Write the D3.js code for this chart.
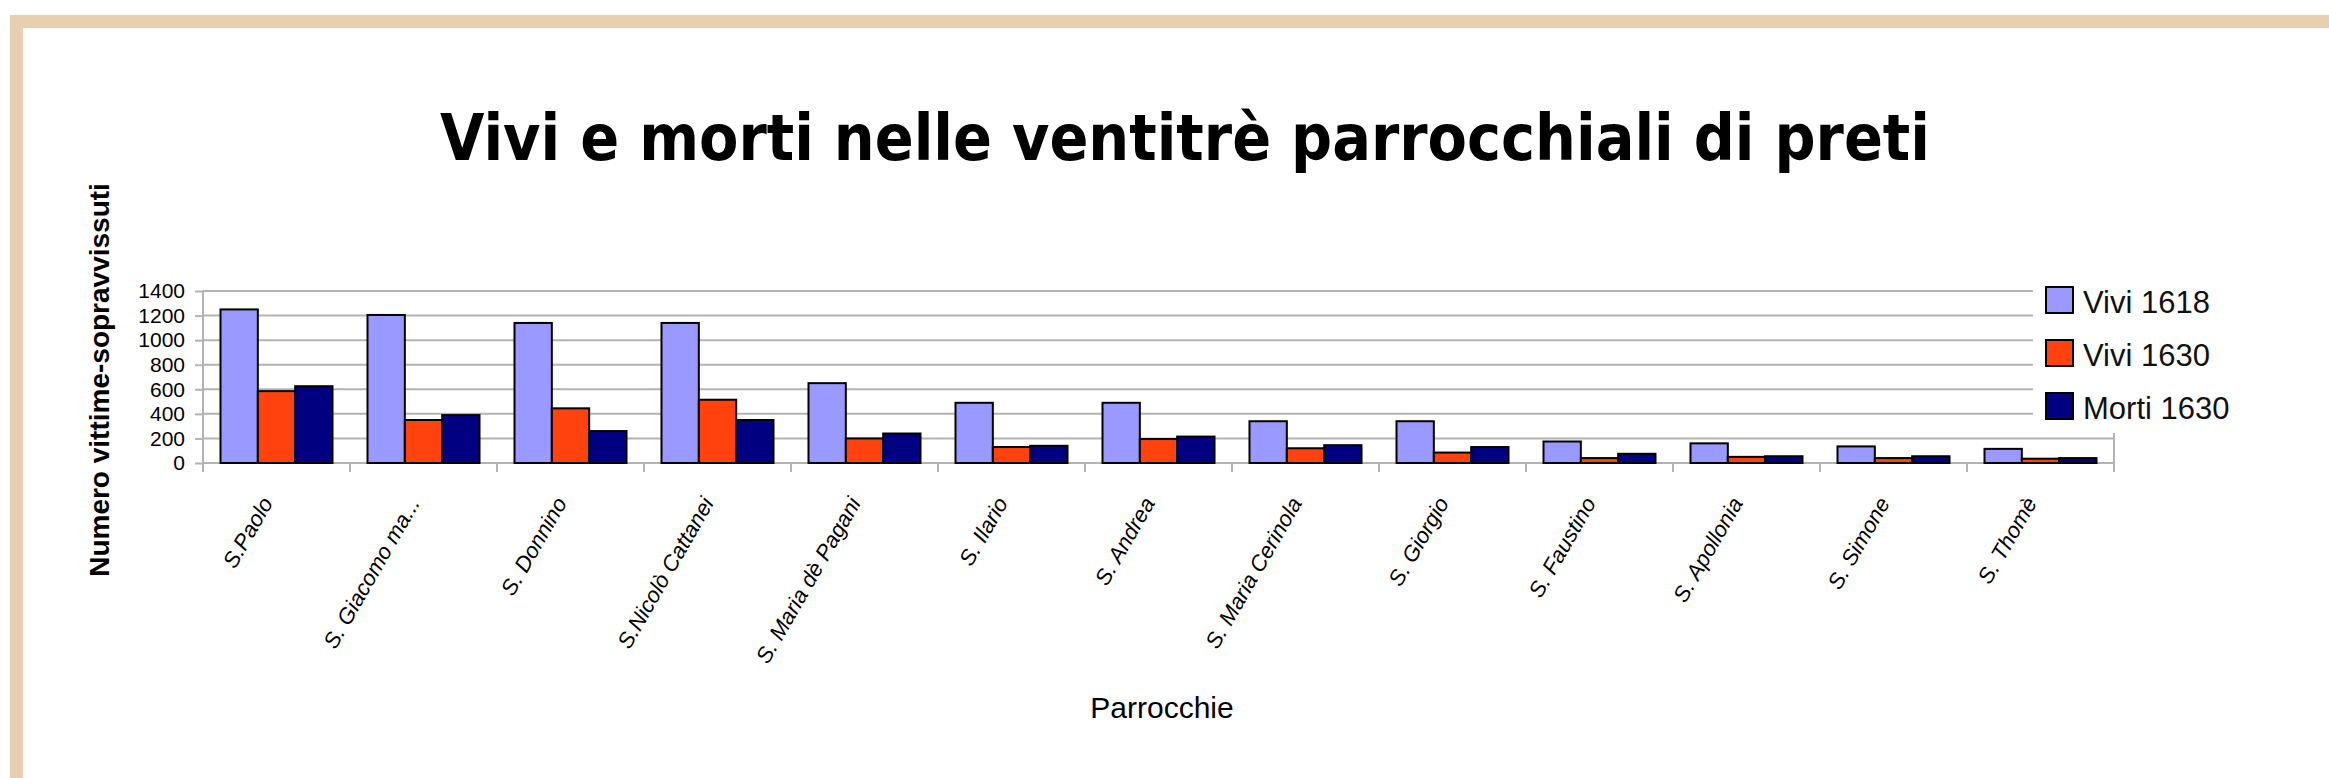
<!DOCTYPE html>
<html lang="it">

<head>
    <meta charset="utf-8">
    <script src="https://cdn.jsdelivr.net/npm/d3@7"></script>
    <title>Vivi e morti nelle ventitrè parrocchiali di preti</title>
    <style>
        body { margin: 0; background: #ffffff; }
        svg { display: block; }
    </style>
</head>

<body>
    <svg width="2329" height="778" id="plot"></svg>
    <script>
    // Data
    const parrocchie = ["S.Paolo", "S. Giacomo ma...", "S. Donnino", "S.Nicolò Cattanei", "S. Maria dè Pagani",
        "S. Ilario", "S. Andrea", "S. Maria Cerinola", "S. Giorgio", "S. Faustino", "S. Apollonia", "S. Simone", "S. Thomè"]
    const vivi1618 = [1250, 1205, 1140, 1140, 650, 490, 490, 340, 340, 175, 160, 135, 115]
    const vivi1630 = [585, 350, 445, 515, 200, 130, 195, 120, 85, 40, 50, 40, 35]
    const morti1630 = [625, 390, 260, 350, 240, 140, 215, 145, 130, 75, 55, 55, 40]
    const serie = ["Vivi 1618", "Vivi 1630", "Morti 1630"]
    const yTicks = [0, 200, 400, 600, 800, 1000, 1200, 1400]

    const colori = ["#9999ff", "#ff420e", "#000080"]
    const valori = [vivi1618, vivi1630, morti1630]

    let svg = d3.select("#plot")

    // frame (beige border)
    svg.append("rect").attr("x", 10).attr("y", 15).attr("width", 2319).attr("height", 13).attr("fill", "#e8cfb0")
    svg.append("rect").attr("x", 10).attr("y", 15).attr("width", 13).attr("height", 763).attr("fill", "#e8cfb0")

    // title
    svg.append("text")
        .text("Vivi e morti nelle ventitrè parrocchiali di preti")
        .attr("x", 1185)
        .attr("y", 160)
        .attr("text-anchor", "middle")
        .attr("textLength", 1490)
        .attr("lengthAdjust", "spacingAndGlyphs")
        .style("font-family", "'DejaVu Sans', sans-serif")
        .style("font-weight", "bold")
        .style("font-size", "64px")

    let diagram = svg.append("g").attr("id", "diagram")

    // scales
    let scaleX = d3.scaleBand()
        .domain(parrocchie)
        .range([203, 2114])
        .paddingInner(0.238)
        .paddingOuter(0.119)
    let scaleSub = d3.scaleBand()
        .domain(serie)
        .range([0, scaleX.bandwidth()])
    let scaleY = d3.scaleLinear()
        .domain([0, 1400])
        .range([463, 291])

    const left = 203, right = 2114

    // gridlines
    diagram.append("g").selectAll("line")
        .data(yTicks.filter(d => d > 0))
        .enter()
        .append("line")
        .attr("x1", left).attr("x2", right)
        .attr("y1", d => scaleY(d)).attr("y2", d => scaleY(d))
        .attr("stroke", "#b3b3b3")
        .attr("stroke-width", 2)

    // right border of the plot
    diagram.append("line")
        .attr("x1", right).attr("x2", right)
        .attr("y1", scaleY(1400)).attr("y2", 472)
        .attr("stroke", "#b3b3b3").attr("stroke-width", 2)

    // Y axis
    let axisY = d3.axisLeft(scaleY).tickValues(yTicks).tickFormat(d => d).tickSize(8).tickPadding(10)
    let gY = diagram.append("g").attr("transform", "translate(" + left + ",0)").call(axisY)
    gY.select(".domain").attr("d", "M0," + scaleY(1400) + "V472").attr("stroke", "#b3b3b3").attr("stroke-width", 2)
    gY.selectAll(".tick line").attr("stroke", "#b3b3b3").attr("stroke-width", 2)
    gY.selectAll(".tick text")
        .style("font-family", "'Liberation Sans', Arial, sans-serif")
        .style("font-size", "21px")
        .attr("fill", "#000")

    // X axis baseline and ticks at band boundaries
    const boundaries = parrocchie.map(p => scaleX(p) - scaleX.step() * scaleX.paddingOuter())
    boundaries.push(right)
    diagram.append("line")
        .attr("x1", left).attr("x2", right)
        .attr("y1", scaleY(0)).attr("y2", scaleY(0))
        .attr("stroke", "#b3b3b3").attr("stroke-width", 2)
    diagram.append("g").selectAll("line")
        .data(boundaries)
        .enter()
        .append("line")
        .attr("x1", d => d).attr("x2", d => d)
        .attr("y1", scaleY(0)).attr("y2", 472)
        .attr("stroke", "#b3b3b3").attr("stroke-width", 2)

    // bars
    for (const s in serie) {
        diagram.append("g").selectAll("rect")
            .data(valori[s])
            .enter()
            .append("rect")
            .attr("x", (d, i) => scaleX(parrocchie[i]) + scaleSub(serie[s]))
            .attr("y", d => scaleY(d))
            .attr("width", scaleSub.bandwidth())
            .attr("height", d => scaleY(0) - scaleY(d))
            .attr("fill", colori[s])
            .attr("stroke", "#000")
            .attr("stroke-width", 2)
    }

    // category labels (rotated)
    diagram.append("g").selectAll("text")
        .data(parrocchie)
        .enter()
        .append("text")
        .text(d => d)
        .attr("text-anchor", "end")
        .attr("transform", d => "translate(" + (scaleX(d) + scaleX.bandwidth() / 2 - 3) + ",503) rotate(-60)")
        .style("font-family", "'Liberation Sans', Arial, sans-serif")
        .style("font-style", "italic")
        .style("font-size", "22px")

    // axis titles
    svg.append("text")
        .text("Numero vittime-sopravvissuti")
        .attr("transform", "translate(109,380) rotate(-90)")
        .attr("text-anchor", "middle")
        .style("font-family", "'Liberation Sans', Arial, sans-serif")
        .style("font-weight", "bold")
        .style("font-size", "28px")

    svg.append("text")
        .text("Parrocchie")
        .attr("x", 1162)
        .attr("y", 718)
        .attr("text-anchor", "middle")
        .style("font-family", "'Liberation Sans', Arial, sans-serif")
        .style("font-size", "30px")

    // legend (white box covers the gridlines)
    let legend = svg.append("g").attr("id", "legend")
    legend.append("rect")
        .attr("x", 2033).attr("y", 280).attr("width", 280).attr("height", 153)
        .attr("fill", "#ffffff")
    serie.forEach((s, i) => {
        legend.append("rect")
            .attr("x", 2046).attr("y", 287 + i * 53)
            .attr("width", 27).attr("height", 26)
            .attr("fill", colori[i])
            .attr("stroke", "#000").attr("stroke-width", 2)
        legend.append("text")
            .text(s)
            .attr("x", 2083).attr("y", 313 + i * 53)
            .style("font-family", "'Liberation Sans', Arial, sans-serif")
            .style("font-size", "31px")
            .attr("fill", "#111")
    })
    </script>
</body>

</html>
